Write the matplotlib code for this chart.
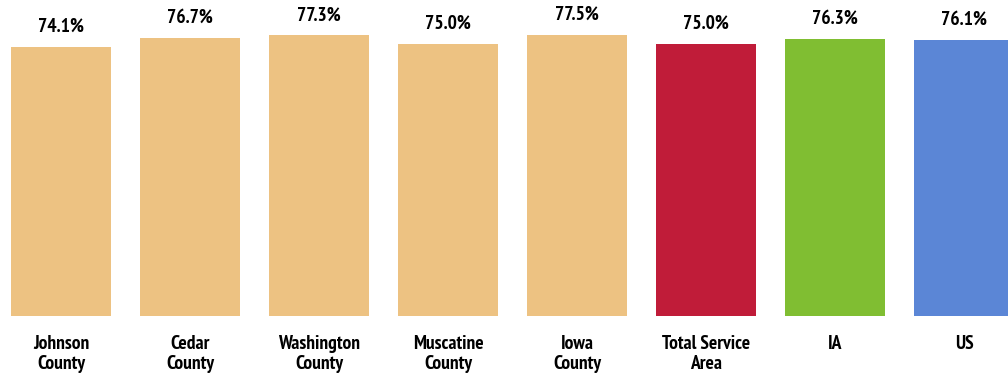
import matplotlib
matplotlib.use("Agg")
import matplotlib.pyplot as plt
from matplotlib import font_manager

# data
categories = ["Johnson\nCounty", "Cedar\nCounty", "Washington\nCounty", "Muscatine\nCounty",
              "Iowa\nCounty", "Total Service\nArea", "IA", "US"]
values = [74.1, 76.7, 77.3, 75.0, 77.5, 75.0, 76.3, 76.1]
colors = ["#EDC282"] * 5 + ["#C01C39", "#80BE32", "#5B86D6"]

# pick a narrow bold face if one is installed
def rank(f):
    n = f.name.lower()
    st = str(f.stretch).lower()
    if f.weight not in (700, "bold"):
        return None
    if "narrow" in n:
        return 0
    if st == "condensed" or ("condensed" in n and "semi" not in n and "extra" not in n):
        return 1
    if "semi" in st or "semicondensed" in n:
        return 2
    return None

cands = [(rank(f), f.fname) for f in font_manager.fontManager.ttflist if rank(f) is not None]
cands.sort()
if cands:
    fp = font_manager.FontProperties(fname=cands[0][1])
else:
    fp = font_manager.FontProperties(family=["Liberation Sans", "DejaVu Sans"], weight="bold")

W, H = 1008, 377
fig = plt.figure(figsize=(W / 100, H / 100), dpi=100)

# size the font so "Washington" is about 90 px wide, as in the reference
fp.set_size(13.5)
r = fig.canvas.get_renderer()
t = fig.text(0, 0, "Washington", fontproperties=fp)
w = t.get_window_extent(r).width
t.remove()
size = max(11.5, min(14.0, 13.5 * 90 / w))
fp.set_size(size)

base_px = 316
ax = fig.add_axes([0, (H - base_px) / H, 1, base_px / H])

x = list(range(len(values)))
ax.bar(x, values, width=0.775, color=colors)

for xi, v in zip(x, values):
    ax.annotate(f"{v:.1f}%", (xi, v), xytext=(0, 8), textcoords="offset points",
                ha="center", va="bottom", fontproperties=fp)

ax.set_xlim(-61 / 129, (W - 61) / 129)
ax.set_ylim(0, base_px / 3.63)
ax.set_xticks(x)
ax.set_xticklabels(categories, fontproperties=fp, linespacing=1.1)
ax.tick_params(axis="x", length=0, pad=14)
ax.set_yticks([])
for s in ax.spines.values():
    s.set_visible(False)

fig.savefig("out.png", dpi=100)
